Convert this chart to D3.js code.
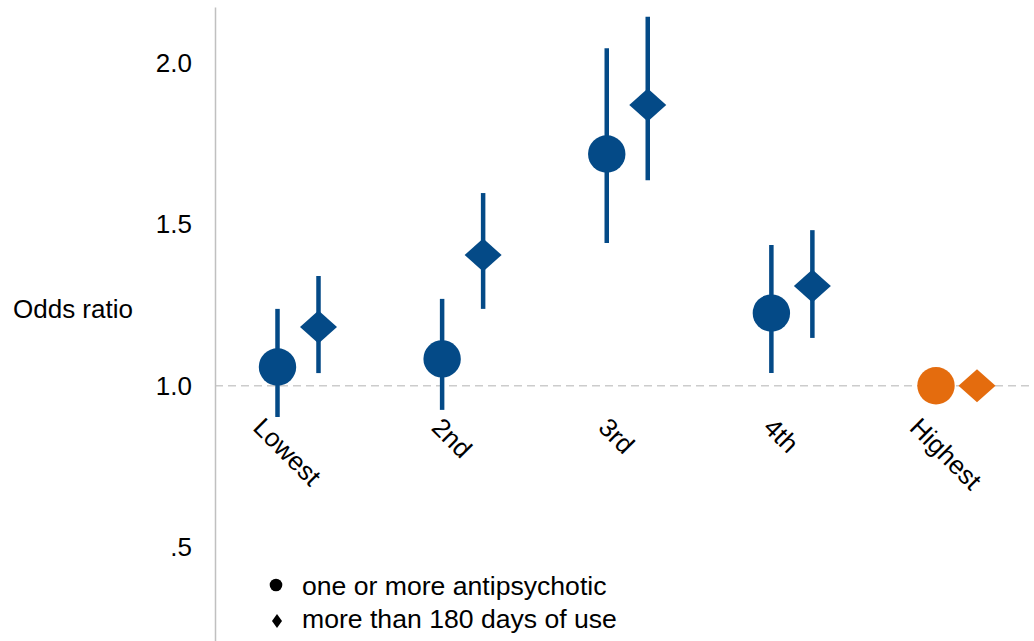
<!DOCTYPE html>
<html>
<head>
<meta charset="utf-8">
<script src="https://cdn.jsdelivr.net/npm/d3@7"></script>
<style>
  body { margin: 0; background: #fff; }
  svg text { font-family: "Liberation Sans", Arial, sans-serif; fill: #000; }
</style>
</head>
<body>
<div class="chart"></div>
<script>
// data
var categories = ["Lowest", "2nd", "3rd", "4th", "Highest"];
var anyEst  = [1.058, 1.083, 1.718, 1.225, 1.0];
var anyLo   = [0.903, 0.925, 1.442, 1.039, null];
var anyHi   = [1.238, 1.269, 2.046, 1.436, null];
var longEst = [1.182, 1.405, 1.870, 1.309, 1.0];
var longLo  = [1.039, 1.238, 1.637, 1.148, null];
var longHi  = [1.340, 1.597, 2.143, 1.482, null];
var yTicks  = [0.5, 1.0, 1.5, 2.0];
var legendLabels = ["one or more antipsychotic", "more than 180 days of use"];

var blue = "#044a87", orange = "#e46c0e";

var svg = d3.select(".chart").append("svg")
  .attr("width", 1034).attr("height", 641);

var x = d3.scalePoint().domain(categories).range([298, 956.5]);
var y = d3.scaleLinear().domain([0.2087, 2.1736]).range([641, 7]);
var axisX = 215, off = 20.5;

// reference line at 1
svg.append("line")
  .attr("x1", axisX).attr("x2", 1034)
  .attr("y1", y(1)).attr("y2", y(1))
  .attr("stroke", "#cccccc").attr("stroke-width", 1.5)
  .attr("stroke-dasharray", "8,5");

// y axis
var fmt = function(d){ return d3.format(".1f")(d).replace(/^0/, ""); };
var yAxis = d3.axisLeft(y).tickValues(yTicks).tickFormat(fmt).tickSize(0).tickPadding(23);
var gy = svg.append("g")
  .attr("transform", "translate(" + axisX + ",0)")
  .call(yAxis);
gy.select(".domain").attr("stroke", "#c0c0c0").attr("stroke-width", 1.5);
gy.selectAll("text").style("font-size", "26px").attr("fill", "#000");

svg.append("text")
  .attr("x", 13).attr("y", 318)
  .style("font-size", "26px")
  .text("Odds ratio");

// category labels, rotated
svg.selectAll(".xlab")
  .data(categories).enter().append("text")
  .attr("class", "xlab")
  .style("font-size", "26px")
  .text(function(d){ return d; })
  .attr("transform", function(d){
    var len = this.getComputedTextLength();
    var sx = x(d) - 17 - 0.7071 * len / 2;
    return "translate(" + sx + ",429) rotate(45)";
  });

function colorOf(i){ return i === categories.length - 1 ? orange : blue; }

// CI lines
function ciLines(lo, hi, dx, cls){
  svg.selectAll("." + cls)
    .data(categories.filter(function(c, i){ return lo[i] != null; }))
    .enter().append("line")
    .attr("class", cls)
    .attr("x1", function(d){ return x(d) + dx; })
    .attr("x2", function(d){ return x(d) + dx; })
    .attr("y1", function(d){ return y(lo[categories.indexOf(d)]); })
    .attr("y2", function(d){ return y(hi[categories.indexOf(d)]); })
    .attr("stroke", blue).attr("stroke-width", 4.5);
}
ciLines(anyLo, anyHi, -off, "ciAny");
ciLines(longLo, longHi, off, "ciLong");

// circles
svg.selectAll(".pt")
  .data(categories).enter().append("circle")
  .attr("class", "pt")
  .attr("cx", function(d){ return x(d) - off; })
  .attr("cy", function(d, i){ return y(anyEst[i]); })
  .attr("r", 18.7)
  .attr("fill", function(d, i){ return colorOf(i); });

// diamonds
function diamond(w, h){
  return "M0," + (-h) + "L" + w + ",0L0," + h + "L" + (-w) + ",0Z";
}
svg.selectAll(".dm")
  .data(categories).enter().append("path")
  .attr("class", "dm")
  .attr("d", diamond(18.5, 16.5))
  .attr("transform", function(d, i){
    return "translate(" + (x(d) + off) + "," + y(longEst[i]) + ")";
  })
  .attr("fill", function(d, i){ return colorOf(i); });

// legend
var lg = svg.append("g").attr("transform", "translate(276,585)");
lg.append("circle").attr("cx", 0).attr("cy", 0).attr("r", 6.3).attr("fill", "#000");
lg.append("path").attr("d", diamond(5, 7)).attr("transform", "translate(1,36)").attr("fill", "#000");
lg.selectAll(".lt")
  .data(legendLabels).enter().append("text")
  .attr("class", "lt")
  .attr("x", 26)
  .attr("y", function(d, i){ return 10 + i * 33; })
  .style("font-size", "26.6px")
  .text(function(d){ return d; });
</script>
</body>
</html>
